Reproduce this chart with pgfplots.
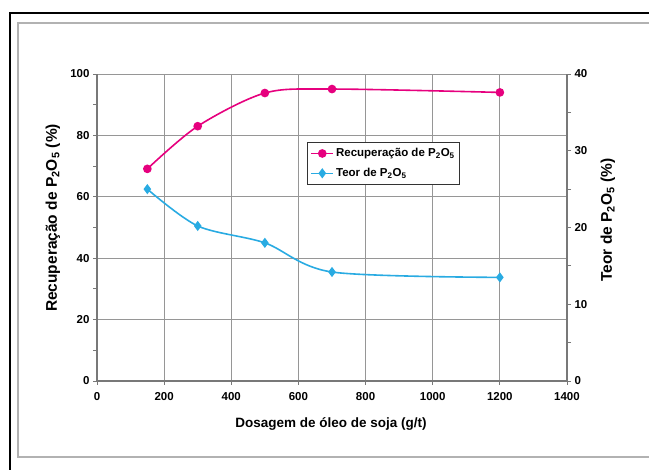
\documentclass[border=0pt]{standalone}
\usepackage{fontspec}
\setmainfont{Liberation Sans}
\usepackage{pgfplots}
\pgfplotsset{compat=1.18}
\definecolor{magred}{RGB}{230,0,126}
\definecolor{cyanb}{RGB}{41,171,226}
\definecolor{gridc}{RGB}{150,150,150}
\definecolor{axc}{RGB}{120,120,120}
\begin{document}
\begin{tikzpicture}[x=1pt,y=1pt]
\useasboundingbox (0,0) rectangle (649,-470);
\draw[black,line width=1.3pt] (10,-480) -- (10,-13) -- (660,-13);
\draw[gray!60,line width=1.4pt] (660,-457) -- (18,-457) -- (18,-23) -- (660,-23);
\begin{axis}[
  at={(97pt,-381pt)}, anchor=south west,
  scale only axis, width=470pt, height=307pt,
  xmin=0, xmax=1400, ymin=0, ymax=100,
  axis x line*=bottom, axis y line*=left,
  axis line style={axc,line width=1.5pt,-},
  xtick={0,200,...,1400}, ytick={0,20,...,100},
  minor y tick num=1,
  tick align=outside,
  major tick length=4pt, minor tick length=4pt,
  tick style={axc,line width=0.8pt},
  grid=major, major grid style={gridc,line width=0.8pt},
  tick label style={font=\fontsize{11.5}{13}\selectfont\bfseries},
  /pgf/number format/assume math mode=true,
  /pgf/number format/1000 sep={},
  xticklabel style={yshift=-4pt},
  xlabel={Dosagem de óleo de soja (g/t)},
  ylabel={Recuperação de P\textsubscript{2}O\textsubscript{5} (\%)},
  every axis x label/.append style={at={(axis description cs:0.498,-0.14)},anchor=center,font=\fontsize{13.5}{15}\selectfont\bfseries},
  every axis y label/.append style={at={(axis description cs:-0.094,0.531)},anchor=center,font=\fontsize{15.5}{17}\selectfont\bfseries},
]
\addplot[magred, line width=1.6pt, smooth, mark=*, mark size=3.5pt, mark options={fill=magred,draw=magred}]
  coordinates {(150,69.1) (300,83.0) (500,93.8) (700,95.1) (1200,94.0)};
\end{axis}
\begin{axis}[
  at={(97pt,-381pt)}, anchor=south west,
  scale only axis, width=470pt, height=307pt,
  xmin=0, xmax=1400, ymin=0, ymax=40,
  axis x line=none, axis y line*=right,
  axis line style={axc,line width=1.5pt,-},
  ytick={0,10,...,40},
  minor y tick num=1,
  tick align=outside,
  major tick length=4pt, minor tick length=4pt,
  tick style={axc,line width=0.8pt},
  tick label style={font=\fontsize{11.5}{13}\selectfont\bfseries},
  /pgf/number format/assume math mode=true,
  ylabel={Teor de P\textsubscript{2}O\textsubscript{5} (\%)},
  every axis y label/.append style={at={(axis description cs:1.087,0.524)},anchor=center,font=\fontsize{15.5}{17}\selectfont\bfseries},
  legend style={at={(axis description cs:0.447,0.778)}, anchor=north west,
    draw=black!80, line width=0.8pt, font=\fontsize{11.5}{13}\selectfont\bfseries,
    inner xsep=3pt, inner ysep=4pt, row sep=6pt, fill=white},
  legend cell align=left,
  legend image code/.code={\draw[mark repeat=2,mark phase=2,#1] plot coordinates {(0pt,0pt) (11pt,0pt) (22pt,0pt)};},
]
\addlegendimage{magred, line width=1.6pt, mark=*, mark size=3.5pt, mark options={fill=magred,draw=magred}}
\addlegendentry{Recuperação de P\textsubscript{2}O\textsubscript{5}}
\addplot[cyanb, line width=1.6pt, smooth, mark=diamond*, mark size=3.8pt, mark options={fill=cyanb,draw=cyanb}]
  coordinates {(150,25.0) (300,20.2) (500,18.0) (700,14.2) (1200,13.5)};
\addlegendentry{Teor de P\textsubscript{2}O\textsubscript{5}}
\end{axis}
\end{tikzpicture}
\end{document}
